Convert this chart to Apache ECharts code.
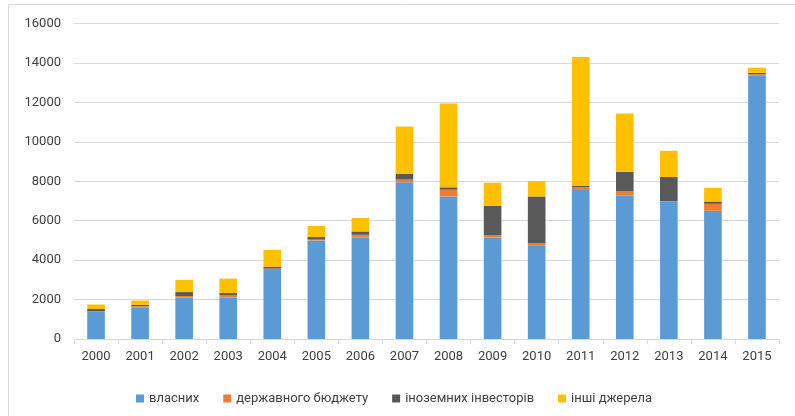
<!DOCTYPE html>
<html>
<head>
<meta charset="utf-8">
<script src="https://cdn.jsdelivr.net/npm/echarts@6/dist/echarts.min.js"></script>
<style>
  html, body { margin: 0; padding: 0; background: #fff; }
  #chart { width: 795px; height: 416px; }
</style>
</head>
<body>
<div id="chart"></div>
<script>
var years = ['2000','2001','2002','2003','2004','2005','2006','2007','2008','2009','2010','2011','2012','2013','2014','2015'];
var seriesNames = ['власних', 'державного бюджету', 'іноземних інвесторів', 'інші джерела'];

var own      = [1380, 1600, 2100, 2100, 3500, 5000, 5150, 7950, 7230, 5140, 4750, 7555, 7265, 6950, 6500, 13360];
var budget   = [20, 60, 80, 110, 70, 40, 135, 135, 340, 135, 100, 135, 220, 35, 355, 70];
var foreign  = [120, 70, 200, 120, 100, 130, 170, 300, 120, 1485, 2380, 70, 1000, 1230, 120, 70];
var other    = [230, 220, 620, 730, 850, 560, 680, 2390, 4250, 1165, 780, 6540, 2945, 1330, 695, 260];

var colors = ['#5B9BD5', '#ED7D31', '#595959', '#FFC000'];
var font = 'Roboto, "Noto Sans", sans-serif';

var chart = echarts.init(document.getElementById('chart'));

function bar(name, data) {
    return {
        name: name,
        type: 'bar',
        stack: 'total',
        barWidth: '40%',
        data: data
    };
}

option = {
    animation: false,
    color: colors,
    textStyle: { fontFamily: font },
    grid: { left: 74, right: 16, top: 23.5, bottom: 77 },
    legend: {
        left: 131,
        top: 387,
        itemWidth: 8,
        itemHeight: 8,
        itemGap: 24,
        icon: 'rect',
        textStyle: { fontSize: 13, color: '#404040', fontFamily: font },
        data: seriesNames
    },
    xAxis: {
        type: 'category',
        data: years,
        axisLine: { lineStyle: { color: '#d9d9d9' } },
        axisTick: { show: true, length: 5, lineStyle: { color: '#d9d9d9' } },
        axisLabel: { color: '#404040', fontSize: 13, margin: 11 }
    },
    yAxis: {
        type: 'value',
        min: 0,
        max: 16000,
        interval: 2000,
        axisLine: { show: false },
        axisTick: { show: false },
        axisLabel: { color: '#404040', fontSize: 13, margin: 13, formatter: function (v) { return String(v); } },
        splitLine: { lineStyle: { color: '#d9d9d9' } }
    },
    graphic: [
        { type: 'line', shape: { x1: 8.5, y1: 4.5, x2: 795, y2: 4.5 }, style: { stroke: '#d9d9d9', lineWidth: 1 } },
        { type: 'line', shape: { x1: 8.5, y1: 4.5, x2: 8.5, y2: 416 }, style: { stroke: '#d9d9d9', lineWidth: 1 } }
    ],
    series: [
        bar(seriesNames[0], own),
        bar(seriesNames[1], budget),
        bar(seriesNames[2], foreign),
        bar(seriesNames[3], other)
    ]
};
chart.setOption(option);
</script>
</body>
</html>
